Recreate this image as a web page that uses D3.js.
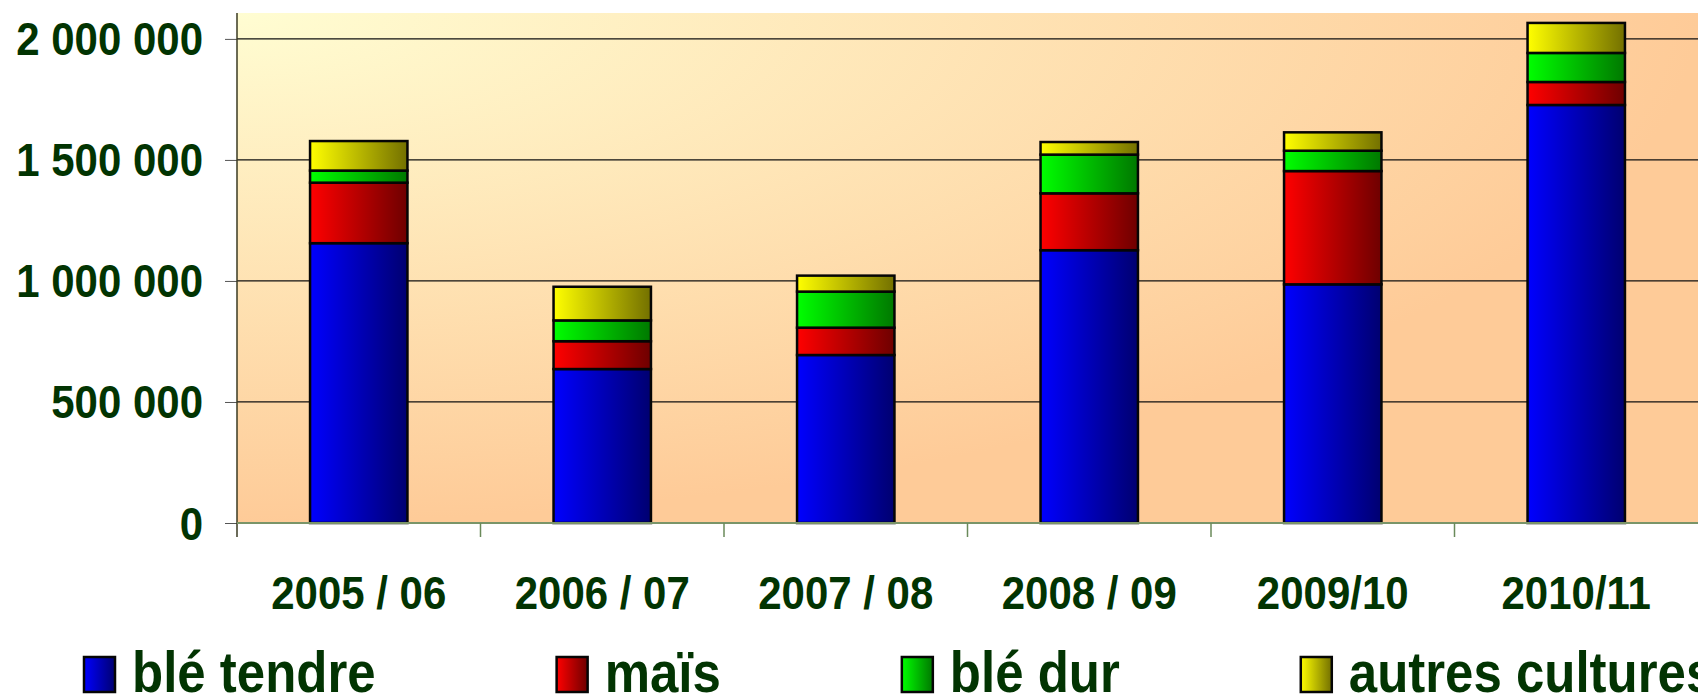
<!DOCTYPE html>
<html>
<head>
<meta charset="utf-8">
<script src="https://cdn.jsdelivr.net/npm/d3@7"></script>
<style>
  html, body { margin: 0; padding: 0; background: #ffffff; }
  svg { display: block; }
</style>
</head>
<body>
<svg id="chart" width="1698" height="696"></svg>
<script>
// ---- data ----
const categories = ["2005 / 06", "2006 / 07", "2007 / 08", "2008 / 09", "2009/10", "2010/11"];
const seriesNames = ["blé tendre", "maïs", "blé dur", "autres cultures"];
const bleTendre = [1156000, 636000, 694000, 1127000, 986000, 1727000];
const mais      = [250000, 115000, 113000, 235000, 468000, 95000];
const bleDur    = [50000, 86000, 149000, 160000, 84000, 120000];
const autres    = [122000, 139000, 66000, 52000, 76000, 124000];
const yTicks    = [0, 500000, 1000000, 1500000, 2000000];

// ---- layout ----
const plot = { left: 237, right: 1698, top: 13, bottom: 523 };
const textColor = "#023402";
const fontFam = "'Liberation Sans', Arial, sans-serif";
const stretch = 1.12;

const svg = d3.select("#chart");
const defs = svg.append("defs");

// background gradient
const bg = defs.append("radialGradient").attr("id", "bgGrad")
  .attr("cx", 0).attr("cy", 0).attr("fx", 0).attr("fy", 0).attr("r", 1);
bg.append("stop").attr("offset", "0%").attr("stop-color", "#FFFDD2");
bg.append("stop").attr("offset", "100%").attr("stop-color", "#FECB98");

// bar gradients
const barColors = [
  ["#0000FF", "#000070"],
  ["#FF0000", "#6E0000"],
  ["#00FF00", "#007800"],
  ["#FFFF00", "#737000"]
];
barColors.forEach((c, i) => {
  const g = defs.append("linearGradient").attr("id", "g" + i)
    .attr("x1", 0).attr("y1", 0).attr("x2", 1).attr("y2", 0);
  g.append("stop").attr("offset", "0%").attr("stop-color", c[0]);
  g.append("stop").attr("offset", "100%").attr("stop-color", c[1]);
});

// scales
const x = d3.scaleBand().domain(categories)
  .range([plot.left, plot.right]).paddingInner(0.6).paddingOuter(0.3);
const y = d3.scaleLinear().domain([0, 2107000]).range([plot.bottom, plot.top]);

// background
svg.append("rect").attr("x", plot.left).attr("y", plot.top)
  .attr("width", plot.right - plot.left).attr("height", plot.bottom - plot.top)
  .attr("fill", "url(#bgGrad)");

// gridlines
svg.append("g").selectAll("line").data(yTicks.filter(d => d > 0)).join("line")
  .attr("x1", plot.left).attr("x2", plot.right)
  .attr("y1", d => y(d)).attr("y2", d => y(d))
  .attr("stroke", "#111").attr("stroke-width", 1.3);

// stacked bars
const rows = categories.map((c, i) => ({
  cat: c, s0: bleTendre[i], s1: mais[i], s2: bleDur[i], s3: autres[i]
}));
const stack = d3.stack().keys(["s0", "s1", "s2", "s3"])(rows);
const barsG = svg.append("g");
stack.forEach((layer, si) => {
  barsG.append("g").selectAll("rect").data(layer).join("rect")
    .attr("x", d => x(d.data.cat))
    .attr("width", x.bandwidth())
    .attr("y", d => y(d[1]))
    .attr("height", d => y(d[0]) - y(d[1]))
    .attr("fill", "url(#g" + si + ")")
    .attr("stroke", "#050505").attr("stroke-width", 2.5);
});

// y axis
const fmt = d3.formatLocale({ decimal: ",", thousands: " ", grouping: [3], currency: ["", ""] }).format(",d");
const yAxis = svg.append("g").attr("transform", `translate(${plot.left},0)`)
  .call(d3.axisLeft(y).tickValues(yTicks).tickFormat(fmt).tickSize(12).tickPadding(22));
yAxis.select(".domain").remove();
yAxis.selectAll(".tick line").attr("stroke", "#555");
yAxis.selectAll(".tick text")
  .attr("fill", textColor).attr("font-family", fontFam)
  .attr("font-weight", "bold").attr("font-size", 42)
  .attr("dy", "0.34em")
  .attr("transform", `scale(1,${stretch})`);

// y axis line
svg.append("line").attr("x1", plot.left).attr("x2", plot.left)
  .attr("y1", plot.top).attr("y2", plot.bottom + 14)
  .attr("stroke", "#3a3a22").attr("stroke-width", 1.5);

// x axis baseline
svg.append("line").attr("x1", plot.left).attr("x2", plot.right)
  .attr("y1", plot.bottom).attr("y2", plot.bottom)
  .attr("stroke", "#7a9468").attr("stroke-width", 2);

// x axis boundary ticks
const boundaries = categories.slice(1).map(c => x(c) - x.step() * x.paddingOuter());
svg.append("g").selectAll("line").data(boundaries).join("line")
  .attr("x1", d => d).attr("x2", d => d)
  .attr("y1", plot.bottom).attr("y2", plot.bottom + 14)
  .attr("stroke", "#6a8a5a").attr("stroke-width", 1.5);

// x labels
svg.append("g").selectAll("text").data(categories).join("text")
  .attr("transform", d => `translate(${x(d) + x.bandwidth() / 2},609) scale(1,${stretch})`)
  .attr("text-anchor", "middle")
  .attr("fill", textColor).attr("font-family", fontFam)
  .attr("font-weight", "bold").attr("font-size", 42)
  .text(d => d);

// legend
const legendG = svg.append("g");
let lx = 84;
seriesNames.forEach((name, i) => {
  legendG.append("rect").attr("x", lx).attr("y", 657)
    .attr("width", 31).attr("height", 35)
    .attr("fill", "url(#g" + i + ")")
    .attr("stroke", "#050505").attr("stroke-width", 2.5);
  const t = legendG.append("text")
    .attr("transform", `translate(${lx + 48},692) scale(1,${stretch})`)
    .attr("fill", textColor).attr("font-family", fontFam)
    .attr("font-weight", "bold").attr("font-size", 51)
    .text(name);
  lx = lx + 48 + t.node().getComputedTextLength() + 181;
});
</script>
</body>
</html>
